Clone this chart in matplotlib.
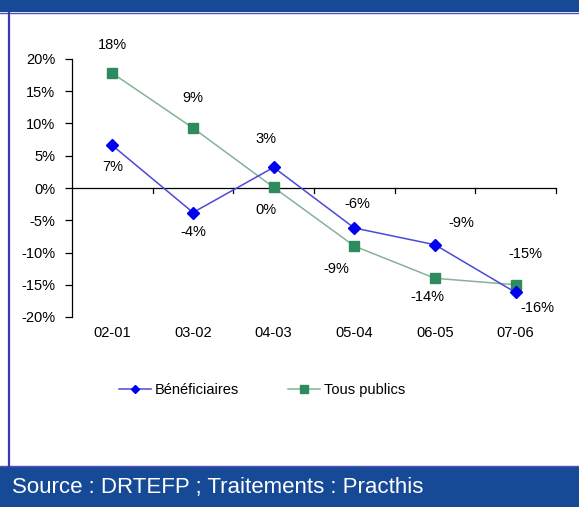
import matplotlib.pyplot as plt
from matplotlib.patches import Rectangle
from matplotlib.lines import Line2D
from matplotlib.ticker import FixedLocator, PercentFormatter

plt.rcParams['font.family'] = ['Liberation Sans', 'DejaVu Sans']
plt.rcParams['axes.unicode_minus'] = False

periods = ["02-01", "03-02", "04-03", "05-04", "06-05", "07-06"]
beneficiaires = [6.6, -3.8, 3.2, -6.2, -8.8, -16.2]
tous_publics = [17.8, 9.3, 0.1, -9.0, -14.0, -15.0]
bene_labels = ["7%", "-4%", "3%", "-6%", "-9%", "-16%"]
tp_labels = ["18%", "9%", "0%", "-9%", "-14%", "-15%"]

W, H = 579, 507
fig = plt.figure(figsize=(W / 100, H / 100), dpi=100)
fig.patch.set_facecolor("white")

band = "#164a96"
# top and bottom bands, left border
fig.add_artist(Rectangle((0, 1 - 12 / H), 1, 12 / H, transform=fig.transFigure,
                         facecolor=band, edgecolor="none"))
fig.add_artist(Line2D([0, 1], [1 - 12.5 / H] * 2, transform=fig.transFigure,
                      color="#5050b8", lw=1))
fig.add_artist(Rectangle((0, 0), 1, 41 / H, transform=fig.transFigure,
                         facecolor=band, edgecolor="none"))
fig.add_artist(Line2D([0, 1], [41.5 / H] * 2, transform=fig.transFigure,
                      color="#5050b8", lw=1))
fig.add_artist(Line2D([8.5 / W] * 2, [41 / H, 1 - 12 / H], transform=fig.transFigure,
                      color="#3838b8", lw=1.6))
fig.text(12 / W, 20 / H, "Source : DRTEFP ; Traitements : Practhis", color="white",
         fontsize=16, va="center", ha="left")

# axes: x 72..556 px, y 20% at 59 px, -20% at 317 px
ax = fig.add_axes([72 / W, 1 - 317 / H, 484 / W, 258 / H])
x = list(range(len(periods)))
ax.plot(x, beneficiaires, color="#4a4ad8", lw=1.1, marker="D", ms=6,
        mfc="#0000ee", mec="#0000ee", label="Bénéficiaires", zorder=3)
ax.plot(x, tous_publics, color="#86b298", lw=1.1, marker="s", ms=7.5,
        mfc="#2e8b5e", mec="#2e8b5e", label="Tous publics", zorder=2)

ax.set_xlim(-0.5, len(periods) - 0.5)
ax.set_ylim(-20, 20)
ax.yaxis.set_major_locator(FixedLocator([-20, -15, -10, -5, 0, 5, 10, 15, 20]))
ax.yaxis.set_major_formatter(PercentFormatter(decimals=0))
for s in ["top", "right", "bottom"]:
    ax.spines[s].set_visible(False)
ax.spines["left"].set_linewidth(0.9)
ax.tick_params(axis="y", direction="out", length=5, width=0.9, labelsize=10.5, pad=7)
ax.set_xticks([])

# zero line with category ticks between points
ax.axhline(0, color="black", lw=0.9, zorder=1)
for b in [0.5, 1.5, 2.5, 3.5, 4.5, 5.5]:
    ax.plot([b, b], [0, -0.8], color="black", lw=0.9, clip_on=False)
for i, p in enumerate(periods):
    ax.text(i, -22.5, p, ha="center", va="center", fontsize=10.5)

bene_off = [(0, -22), (0, -19), (-8, 28), (3, 24), (26, 22), (22, -16)]
tp_off = [(0, 28), (0, 30), (-8, -23), (-18, -23), (-8, -19), (10, 31)]
for i in x:
    ax.annotate(bene_labels[i], (i, beneficiaires[i]), xytext=bene_off[i],
                textcoords="offset pixels", ha="center", va="center", fontsize=10.5)
    ax.annotate(tp_labels[i], (i, tous_publics[i]), xytext=tp_off[i],
                textcoords="offset pixels", ha="center", va="center", fontsize=10.5)

leg = fig.legend(handles=ax.get_lines()[:2], loc="center", bbox_to_anchor=(262 / W, 1 - 390 / H),
                 ncol=2, frameon=False, fontsize=10.5, handlelength=2.2, columnspacing=3.4,
                 handletextpad=0.25, markerscale=0.75)

fig.savefig("out.png", dpi=100, facecolor="white")
